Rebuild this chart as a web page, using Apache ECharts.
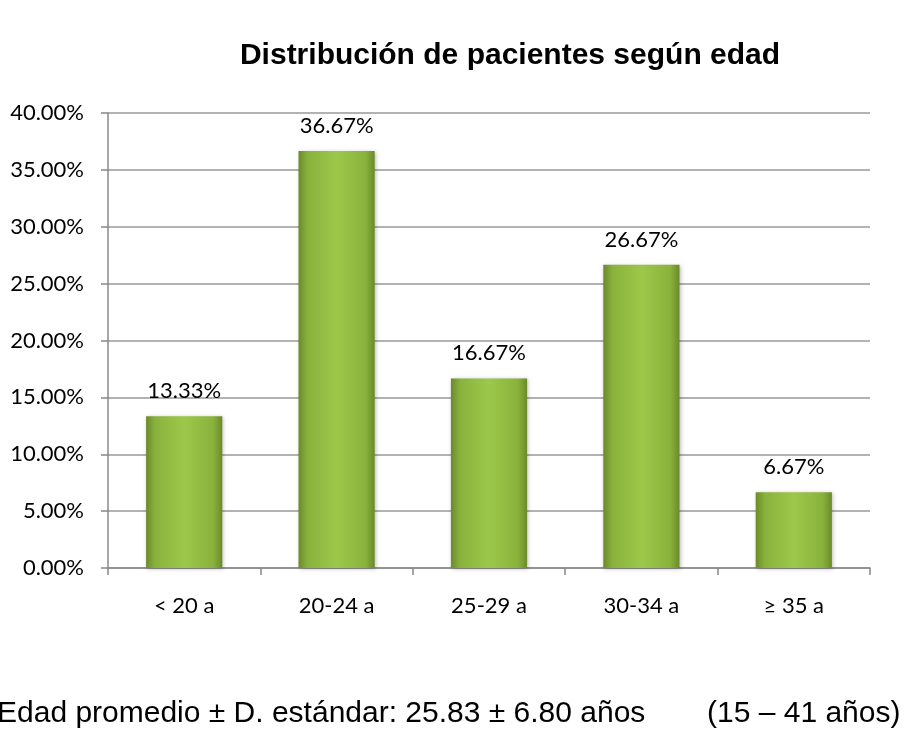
<!DOCTYPE html>
<html>
<head>
<meta charset="utf-8">
<script src="https://cdn.jsdelivr.net/npm/echarts@6/dist/echarts.min.js"></script>
<style>
  html, body { margin: 0; padding: 0; background: #fff; }
  #chart { width: 920px; height: 731px; }
</style>
</head>
<body>
<div id="chart"></div>
<script>
// datos
var categorias = ['< 20 a', '20-24 a', '25-29 a', '30-34 a', '≥ 35 a'];
var porcentajes = [13.33, 36.67, 16.67, 26.67, 6.67];
var ejeY = { min: 0, max: 40, interval: 5 };

var chart = echarts.init(document.getElementById('chart'));

var verde = new echarts.graphic.LinearGradient(0, 0, 1, 0, [
    { offset: 0, color: '#6b8a2a' },
    { offset: 0.12, color: '#89b23c' },
    { offset: 0.5, color: '#9cc84a' },
    { offset: 0.88, color: '#89b23c' },
    { offset: 1, color: '#6b8a2a' }
]);

var option = {
    backgroundColor: '#fff',
    animation: false,
    title: {
        text: 'Distribución de pacientes según edad',
        left: 505,
        top: 51,
        textAlign: 'center',
        textVerticalAlign: 'middle',
        textStyle: {
            fontFamily: 'Liberation Sans, Arial',
            fontWeight: 'bold',
            fontSize: 30,
            color: '#000'
        }
    },
    grid: {
        left: 108,
        top: 113,
        right: 50,
        bottom: 163
    },
    xAxis: {
        type: 'category',
        data: categorias,
        axisLine: { lineStyle: { color: '#888', width: 1.5 } },
        axisTick: { show: true, length: 7, lineStyle: { color: '#888', width: 1.5 } },
        axisLabel: {
            margin: 27,
            fontFamily: 'Lato',
            fontSize: 22,
            color: '#000'
        }
    },
    yAxis: {
        type: 'value',
        min: ejeY.min,
        max: ejeY.max,
        interval: ejeY.interval,
        axisLine: { show: true, lineStyle: { color: '#888', width: 1.5 } },
        axisTick: { show: true, length: 7, lineStyle: { color: '#888', width: 1.5 } },
        splitLine: { lineStyle: { color: '#999', width: 1.5 } },
        axisLabel: {
            margin: 24,
            fontFamily: 'Lato',
            fontSize: 22,
            color: '#000',
            formatter: function (v) { return v.toFixed(2) + '%'; }
        }
    },
    series: [{
        type: 'bar',
        data: porcentajes,
        barWidth: '50%',
        itemStyle: {
            color: verde,
            shadowColor: 'rgba(0,0,0,0.25)',
            shadowBlur: 4,
            shadowOffsetX: 1,
            shadowOffsetY: 1
        },
        label: {
            show: true,
            position: 'top',
            distance: 14,
            fontFamily: 'Lato',
            fontSize: 22,
            color: '#000',
            formatter: function (p) { return p.value.toFixed(2) + '%'; }
        }
    }],
    graphic: [
        {
            type: 'text',
            x: -3,
            y: 714,
            style: {
                text: 'Edad promedio ± D. estándar: 25.83 ± 6.80 años',
                fontFamily: 'Liberation Sans, Arial',
                fontSize: 30,
                verticalAlign: 'middle',
                fill: '#000'
            }
        },
        {
            type: 'text',
            x: 707,
            y: 714,
            style: {
                text: '(15 – 41 años)',
                fontFamily: 'Liberation Sans, Arial',
                fontSize: 30,
                verticalAlign: 'middle',
                fill: '#000'
            }
        }
    ]
};

chart.setOption(option);
</script>
</body>
</html>
